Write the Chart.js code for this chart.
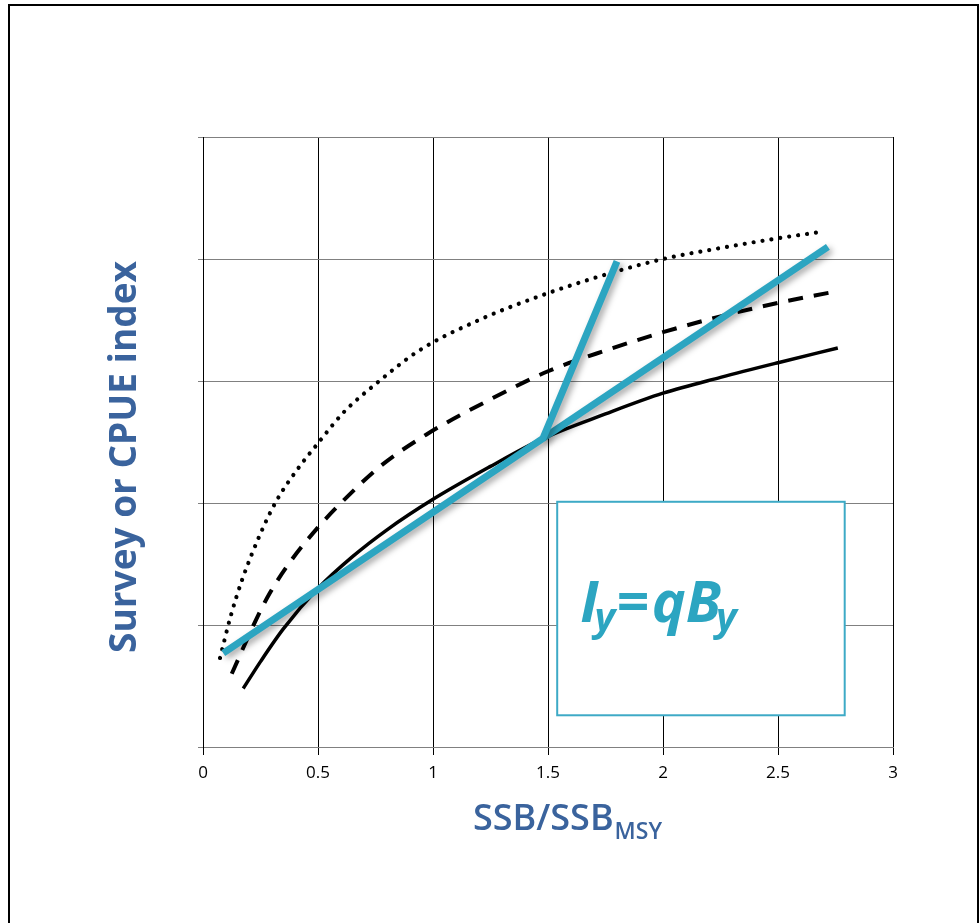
<!DOCTYPE html>
<html>
<head>
<meta charset="utf-8">
<script src="https://cdn.jsdelivr.net/npm/chart.js@4.4.0/dist/chart.umd.min.js"></script>
<style>
html, body { margin: 0; padding: 0; background: #fff; }
#frame { position: absolute; left: 8px; top: 4px; width: 967px; height: 940px; border: 2px solid #000; }
#wrap { position: absolute; left: 0; top: 0; width: 980px; height: 923px; }
</style>
</head>
<body>
<div id="frame"></div>
<div id="wrap"><canvas id="chart"></canvas></div>
<script>
// tick labels for the SSB/SSBmsy axis
const xTicks = [0, 0.5, 1, 1.5, 2, 2.5, 3];

// solid curve
const solidX = [0.175, 0.25, 0.35, 0.5, 0.65, 0.8, 1.0, 1.25, 1.48, 1.75, 2.0, 2.25, 2.5, 2.76];
const solidY = [0.48, 0.70, 0.97, 1.30, 1.56, 1.78, 2.03, 2.30, 2.53, 2.73, 2.90, 3.03, 3.15, 3.27];

// dashed curve
const dashX = [0.125, 0.23, 0.29, 0.38, 0.5, 0.6, 0.77, 0.97, 1.25, 1.5, 1.75, 2.0, 2.25, 2.5, 2.74];
const dashY = [0.6, 1.04, 1.26, 1.52, 1.8, 2.0, 2.3, 2.56, 2.85, 3.08, 3.25, 3.4, 3.53, 3.64, 3.73];

// dotted curve
const dotX = [0.074, 0.12, 0.17, 0.25, 0.32, 0.42, 0.5, 0.61, 0.76, 0.94, 1.2, 1.5, 1.8, 2.0, 2.25, 2.5, 2.68];
const dotY = [0.73, 1.07, 1.37, 1.75, 2.02, 2.3, 2.49, 2.74, 2.99, 3.25, 3.5, 3.72, 3.90, 4.0, 4.09, 4.17, 4.22];

// blue lines: proportional line with a kink up, and the straight continuation
const kinkX = [0.088, 1.478, 1.8];
const kinkY = [0.77, 2.53, 3.98];
const propX = [1.478, 2.717];
const propY = [2.53, 4.10];

// text box position in data units
const boxX = [1.54, 2.79];
const boxY = [0.26, 2.01];

const blue = '#2ca5c1';
const titleBlue = '#3a639d';

function pts(xs, ys) {
    return xs.map((x, i) => ({ x: x, y: ys[i] }));
}

// drop shadow on the blue lines
const shadowPlugin = {
    id: 'shadow',
    beforeDatasetDraw(chart, args) {
        const ctx = chart.ctx;
        ctx.save();
        if (chart.data.datasets[args.index].shadow) {
            ctx.shadowColor = 'rgba(0,0,0,0.35)';
            ctx.shadowBlur = 6;
            ctx.shadowOffsetX = 3;
            ctx.shadowOffsetY = 3;
        }
    },
    afterDatasetDraw(chart) {
        chart.ctx.restore();
    }
};

// box with the formula, axis titles
const textPlugin = {
    id: 'texts',
    beforeDatasetsDraw(chart) {
        const ctx = chart.ctx;
        const xs = chart.scales.x, ys = chart.scales.y;
        const l = xs.getPixelForValue(boxX[0]), r = xs.getPixelForValue(boxX[1]);
        const t = ys.getPixelForValue(boxY[1]), b = ys.getPixelForValue(boxY[0]);
        ctx.save();
        ctx.fillStyle = '#fff';
        ctx.fillRect(l, t, r - l, b - t);
        ctx.strokeStyle = '#3daac6';
        ctx.lineWidth = 2;
        ctx.strokeRect(l, t, r - l, b - t);

        // I_y = qB_y
        ctx.fillStyle = blue;
        ctx.textBaseline = 'alphabetic';
        const base = t + 120;
        let x = l + 23;
        const big = 'italic bold 57px "Open Sans"';
        const small = 'italic bold 40px "Open Sans"';
        ctx.font = big; ctx.fillText('I', x, base); x += ctx.measureText('I').width - 4;
        ctx.font = small; ctx.fillText('y', x, base + 9); x += ctx.measureText('y').width + 1;
        ctx.font = big; ctx.fillText('=', x, base); x += ctx.measureText('=').width + 3;
        ctx.fillText('qB', x, base); x += ctx.measureText('qB').width - 5;
        ctx.font = small; ctx.fillText('y', x, base + 9);
        ctx.restore();
    },
    afterDraw(chart) {
        const ctx = chart.ctx;
        const area = chart.chartArea;
        ctx.save();
        ctx.fillStyle = titleBlue;
        // x title with subscript
        const main = '600 36px "Open Sans"';
        const sub = '600 23px "Open Sans"';
        ctx.font = main;
        const w1 = ctx.measureText('SSB/SSB').width;
        ctx.font = sub;
        const w2 = ctx.measureText('MSY').width;
        let x = (area.left + area.right) / 2 + 19 - (w1 + w2) / 2;
        ctx.textBaseline = 'alphabetic';
        ctx.font = main; ctx.fillText('SSB/SSB', x, 830);
        ctx.font = sub; ctx.fillText('MSY', x + w1 + 1, 839);

        // y title
        ctx.translate(125, 457);
        ctx.rotate(-Math.PI / 2);
        ctx.font = 'bold 37px "Open Sans"';
        ctx.textAlign = 'center';
        ctx.textBaseline = 'middle';
        ctx.fillText('Survey or CPUE index', 0, 0);
        ctx.restore();
    }
};

new Chart(document.getElementById('chart'), {
    type: 'line',
    data: {
        datasets: [
            { data: pts(kinkX, kinkY), borderColor: blue, borderWidth: 7, shadow: true, borderJoinStyle: 'miter' },
            { data: pts(propX, propY), borderColor: blue, borderWidth: 7, shadow: true },
            { data: pts(solidX, solidY), borderColor: '#000', borderWidth: 3.5, cubicInterpolationMode: 'monotone' },
            { data: pts(dashX, dashY), borderColor: '#000', borderWidth: 4, borderDash: [15, 11], cubicInterpolationMode: 'monotone' },
            { data: pts(dotX, dotY), borderColor: '#000', borderWidth: 4.2, borderDash: [0.01, 9], borderCapStyle: 'round', cubicInterpolationMode: 'monotone' }
        ]
    },
    options: {
        responsive: true,
        maintainAspectRatio: false,
        animation: false,
        layout: { padding: { top: 137, right: 87, left: 0, bottom: 0 } },
        elements: { point: { radius: 0 } },
        plugins: { legend: { display: false }, tooltip: { enabled: false } },
        scales: {
            x: {
                type: 'linear',
                min: 0,
                max: 3,
                afterBuildTicks: (scale) => { scale.ticks = xTicks.map(v => ({ value: v })); },
                afterFit: (scale) => { scale.height = 176; },
                ticks: { color: '#000', font: { family: 'Open Sans', size: 17 }, padding: 8, callback: v => String(v) },
                grid: { color: '#000', lineWidth: 1, tickLength: 8 },
                border: { color: '#808080', width: 1 }
            },
            y: {
                min: 0,
                max: 5,
                afterFit: (scale) => { scale.width = 203; },
                ticks: { stepSize: 1, display: false },
                grid: { color: '#808080', lineWidth: 1, tickLength: 5 },
                border: { color: '#000', width: 1 }
            }
        }
    },
    plugins: [shadowPlugin, textPlugin]
});
</script>
</body>
</html>
